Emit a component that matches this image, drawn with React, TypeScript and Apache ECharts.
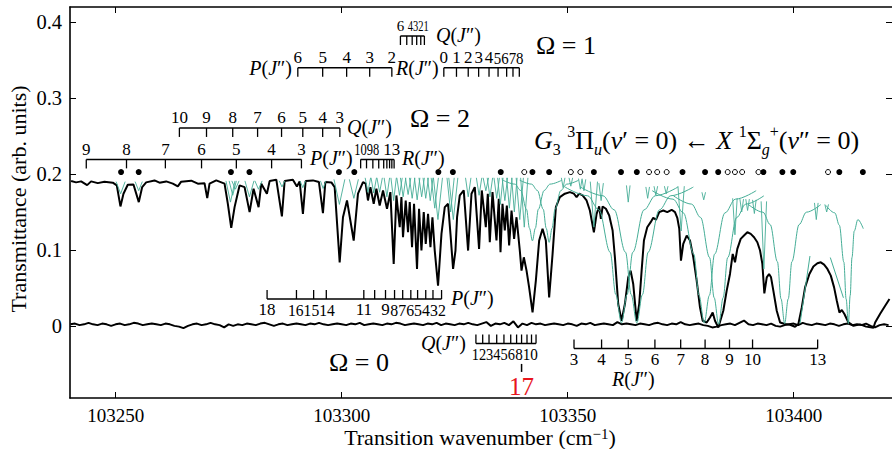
import React, { useEffect, useRef } from "react";
import * as echarts from "echarts";

const FONT = "Liberation Serif, DejaVu Serif, serif";
const GREEN = "#45ad96";

const xTicks = [103250, 103300, 103350, 103400];
const yTicks = [0, 0.1, 0.2, 0.3, 0.4];

// measured transmittance (upper trace)
const upperTrace: [number, number][] = [
  [103240.15, 0.1907], [103241.25, 0.189], [103242.36, 0.1903], [103243.69, 0.1854], [103244.57, 0.1903], [103246.04, 0.188], [103247.52, 0.1899], [103249.36, 0.1886], [103250.25, 0.185], [103251.06, 0.1573], [103251.73, 0.1741], [103252.68, 0.1859], [103253.94, 0.1863], [103255.12, 0.163], [103255.87, 0.1828], [103256.75, 0.189], [103258.59, 0.1916], [103259.7, 0.1886], [103261.18, 0.1903], [103262.65, 0.1873], [103263.75, 0.1837], [103264.5, 0.1899], [103266.72, 0.1912], [103268.18, 0.1873], [103269.66, 0.188], [103270.26, 0.1682], [103270.77, 0.1873], [103272.25, 0.1916], [103274.09, 0.1873], [103274.82, 0.1608], [103275.57, 0.1291], [103276.31, 0.1564], [103277.41, 0.185], [103278.52, 0.1828], [103279.63, 0.1498], [103280.51, 0.1806], [103281.62, 0.1564], [103282.22, 0.1873], [103283.46, 0.1741], [103284.06, 0.1907], [103285.54, 0.1925], [103286.78, 0.1441], [103287.38, 0.1907], [103289.21, 0.1925], [103290.1, 0.1837], [103290.7, 0.1903], [103291.43, 0.1476], [103292.03, 0.1907], [103293.65, 0.1916], [103294.97, 0.1894], [103295.86, 0.1484], [103296.39, 0.1894], [103297.72, 0.189], [103298.45, 0.1828], [103299.56, 0.0837], [103300.29, 0.1431], [103301.18, 0.1652], [103302.66, 0.1124], [103303.61, 0.1741], [103304.72, 0.1894], [103305.31, 0.1873], [103305.82, 0.1652], [103306.36, 0.1828], [103307.09, 0.1608], [103307.68, 0.1806], [103308.41, 0.1586], [103309.15, 0.1784], [103310.03, 0.1543], [103310.78, 0.1762], [103311.51, 0.0816], [103312.11, 0.1718], [103312.84, 0.1299], [103313.22, 0.1696], [103313.57, 0.1167], [103314.17, 0.1652], [103314.68, 0.1233], [103315.06, 0.163], [103315.57, 0.1035], [103316.01, 0.1608], [103316.67, 0.075], [103317.12, 0.1543], [103317.65, 0.0992], [103318.16, 0.1498], [103318.6, 0.108], [103319.11, 0.1476], [103319.64, 0.1035], [103320.08, 0.1431], [103320.59, 0.0992], [103321.32, 0.0529], [103322.08, 0.1212], [103322.81, 0.1564], [103323.54, 0.1608], [103324.07, 0.1212], [103324.65, 0.075], [103325.18, 0.0992], [103325.53, 0.1431], [103326.13, 0.1718], [103327.01, 0.1784], [103327.97, 0.0992], [103328.72, 0.1741], [103329.45, 0.1828], [103330.4, 0.1014], [103331.0, 0.1784], [103331.89, 0.1299], [103332.33, 0.1741], [103332.77, 0.1101], [103333.37, 0.1762], [103334.25, 0.1124], [103334.76, 0.1674], [103335.14, 0.0969], [103335.58, 0.1608], [103336.09, 0.1256], [103336.54, 0.1586], [103337.05, 0.1058], [103337.58, 0.152], [103338.15, 0.1146], [103338.68, 0.1431], [103339.41, 0.0992], [103339.79, 0.0728], [103340.3, 0.0903], [103340.9, 0.0728], [103341.47, 0.0507], [103342.23, 0.0177], [103342.96, 0.0596], [103343.69, 0.1124], [103344.44, 0.1278], [103345.17, 0.1124], [103345.9, 0.0375], [103346.66, 0.0948], [103347.39, 0.1564], [103348.27, 0.1696], [103349.38, 0.1741], [103350.49, 0.1762], [103351.37, 0.1741], [103351.97, 0.1696], [103352.54, 0.1741], [103353.3, 0.1718], [103354.18, 0.1652], [103354.91, 0.152], [103355.8, 0.1233], [103356.4, 0.1476], [103356.97, 0.1573], [103357.35, 0.141], [103357.73, 0.1573], [103358.46, 0.1543], [103359.19, 0.1454], [103359.94, 0.1256], [103360.45, 0.0903], [103361.18, 0.0288], [103361.93, 0.0067], [103362.66, 0.0288], [103363.4, 0.0639], [103363.93, 0.0728], [103364.5, 0.0552], [103365.26, 0.0067], [103365.83, 0.0288], [103366.36, 0.0728], [103366.87, 0.1124], [103367.6, 0.1299], [103368.36, 0.1366], [103368.93, 0.1424], [103369.53, 0.1397], [103370.26, 0.1498], [103371.15, 0.152], [103372.03, 0.1498], [103373.0, 0.1529], [103373.74, 0.1498], [103374.25, 0.1424], [103374.69, 0.1278], [103375.06, 0.086], [103375.57, 0.108], [103376.33, 0.119], [103377.06, 0.1124], [103377.79, 0.0903], [103378.54, 0.0596], [103379.27, 0.0243], [103379.87, 0.0067], [103380.76, 0.0045], [103381.49, 0.0111], [103382.08, 0.0177], [103382.59, 0.0067], [103383.33, -0.0021], [103384.43, 0.0199], [103385.18, 0.0464], [103385.91, 0.0684], [103386.51, 0.0948], [103387.02, 0.0837], [103387.53, 0.1014], [103388.28, 0.1146], [103389.01, 0.119], [103389.75, 0.1233], [103390.5, 0.1212], [103391.23, 0.1167], [103391.96, 0.1101], [103392.56, 0.0992], [103393.07, 0.0816], [103393.51, 0.0428], [103394.04, 0.0639], [103394.55, 0.0684], [103394.99, 0.0639], [103395.5, 0.0464], [103396.25, 0.0199], [103396.99, 0.0045], [103398.09, 0.0024], [103399.2, 0.0015], [103400.31, -0.0012], [103401.04, 0.0024], [103401.79, 0.0243], [103402.52, 0.0507], [103403.48, 0.0684], [103404.36, 0.0781], [103405.25, 0.0824], [103406.0, 0.0837], [103406.73, 0.0807], [103407.46, 0.075], [103408.21, 0.0662], [103408.94, 0.0507], [103409.54, 0.0331], [103410.12, 0.0177], [103410.65, 0.0209], [103411.22, 0.0156], [103412.11, 0.0045], [103413.22, 0.0001], [103414.7, 0.002], [103416.03, -0.001], [103417.65, -0.0025], [103418.02, 0.0045], [103419.13, 0.016], [103420.24, 0.0266], [103421.19, 0.0354],
];

// zero-level trace, one value per cm^-1 starting at lowerStart
const lowerStart = 103240;
const lowerTrace: number[] = [
  0.002, 0.003, 0.001, 0.002, 0.004, 0.002, 0.001, 0.003, 0.002, 0.0, 0.002, 0.003, 0.001, 0.002, 0.004, 0.003, 0.001, 0.002, 0.003, 0.002,
  0.001, 0.003, 0.002, 0.0, -0.001, -0.003, 0.0, 0.002, 0.003, 0.001, 0.002, 0.004, 0.002, 0.001, -0.002, 0.002, 0.0, 0.002, 0.001, 0.003,
  0.002, 0.001, 0.003, 0.004, 0.002, 0.0, 0.002, 0.003, 0.001, 0.002, 0.003, 0.002, 0.001, 0.003, 0.002, 0.004, 0.002, 0.001, 0.002, 0.003,
  0.002, 0.001, 0.003, 0.002, 0.004, 0.001, 0.002, 0.003, 0.002, 0.001, 0.003, 0.002, 0.004, 0.003, 0.001, 0.002, 0.003, 0.002, 0.001, 0.003,
  0.002, 0.004, 0.001, 0.003, 0.002, 0.001, 0.003, 0.002, 0.004, 0.002, 0.001, 0.003, 0.005, 0.0, 0.003, 0.002, 0.004, 0.001, 0.006, -0.002,
  0.003, 0.001, 0.004, 0.002, 0.003, 0.001, 0.002, 0.003, 0.002, 0.001, 0.003, 0.002, 0.0, 0.003, 0.002, 0.004, 0.001, 0.002, 0.003, 0.002,
  0.001, 0.005, 0.002, 0.003, 0.002, 0.001, 0.003, 0.002, 0.001, 0.003, 0.004, 0.002, 0.001, 0.003, 0.002, 0.005, 0.002, 0.001, 0.002, 0.003,
  0.001, 0.0, -0.002, -0.001, 0.001, 0.002, 0.003, 0.001, 0.004, 0.007, 0.002, 0.001, 0.003, 0.002, 0.001, 0.003, 0.0, -0.001, 0.001, 0.002,
  0.003, 0.001, 0.004, 0.002, 0.001, 0.003, 0.002, 0.001, 0.003, 0.002, 0.0, 0.002, 0.003, 0.001, 0.002, 0.001, 0.003, 0.0, -0.002, 0.001,
  0.002, 0.001,
];

// model line profiles (broad), read point by point
const greenProfiles: [number, number][][] = [
  [[103335.7, 0.1918], [103338.3, 0.1867], [103339.6, 0.1784], [103340.9, 0.1535], [103341.55, 0.1286], [103342.2, 0.112], [103342.85, 0.1286], [103343.5, 0.1535], [103344.8, 0.1784], [103346.1, 0.1867], [103348.7, 0.1918]],
  [[103339.4, 0.1918], [103342.0, 0.1867], [103343.3, 0.1784], [103344.6, 0.1535], [103345.25, 0.1286], [103345.9, 0.11], [103346.55, 0.1286], [103347.2, 0.1535], [103348.5, 0.1784], [103349.8, 0.1867], [103352.4, 0.1918]],
  [[103349.4, 0.1829], [103354.4, 0.1714], [103356.9, 0.1528], [103359.4, 0.097], [103360.65, 0.0412], [103361.9, 0.004], [103363.15, 0.0412], [103364.4, 0.097], [103366.9, 0.1528], [103369.4, 0.1714], [103374.4, 0.1829]],
  [[103352.8, 0.1829], [103357.8, 0.1714], [103360.3, 0.1528], [103362.8, 0.097], [103364.05, 0.0412], [103365.3, 0.004], [103366.55, 0.0412], [103367.8, 0.097], [103370.3, 0.1528], [103372.8, 0.1714], [103377.8, 0.1829]],
  [[103368.7, 0.1781], [103373.3, 0.1669], [103375.6, 0.1488], [103377.9, 0.0945], [103379.05, 0.0402], [103380.2, 0.004], [103381.35, 0.0402], [103382.5, 0.0945], [103384.8, 0.1488], [103387.1, 0.1669], [103391.7, 0.1781]],
  [[103373.4, 0.1713], [103377.4, 0.1604], [103379.4, 0.1428], [103381.4, 0.09], [103382.4, 0.0372], [103383.4, 0.002], [103384.4, 0.0372], [103385.4, 0.09], [103387.4, 0.1428], [103389.4, 0.1604], [103393.4, 0.1713]],
  [[103390.0, 0.1598], [103393.2, 0.1497], [103394.8, 0.1334], [103396.4, 0.0845], [103397.2, 0.0356], [103398.0, 0.003], [103398.8, 0.0356], [103399.6, 0.0845], [103401.2, 0.1334], [103402.8, 0.1497], [103406.0, 0.1598]],
  [[103407.1, 0.1588], [103409.1, 0.1488], [103410.1, 0.1326], [103411.1, 0.084], [103411.6, 0.0354], [103412.1, 0.003], [103412.5, 0.04], [103412.9, 0.09], [103413.4, 0.125], [103414.2, 0.14], [103415.4, 0.128]],
  [[103401.4, 0.003], [103403.6, 0.092]],
  [[103408.1, 0.09], [103411.0, 0.037]],
];

// narrow model lines: [centre, top, minimum, half width]
const greenNarrow: [number, number, number, number][] = [
  [103251.1, 0.19, 0.174, 0.5], [103255.1, 0.19, 0.178, 0.4], [103275.4, 0.191, 0.163, 0.5], [103275.9, 0.191, 0.172, 0.4],
  [103276.5, 0.191, 0.18, 0.4], [103279.6, 0.191, 0.17, 0.5], [103281.6, 0.191, 0.18, 0.4], [103286.8, 0.191, 0.183, 0.3],
  [103291.4, 0.191, 0.182, 0.3], [103295.9, 0.191, 0.181, 0.3], [103299.5, 0.193, 0.16, 0.6], [103302.7, 0.193, 0.168, 0.5],
  [103305.8, 0.195, 0.176, 0.3], [103307.1, 0.195, 0.175, 0.3], [103308.4, 0.195, 0.176, 0.3], [103310.0, 0.195, 0.17, 0.3],
  [103311.5, 0.195, 0.165, 0.3], [103312.8, 0.195, 0.172, 0.3], [103313.6, 0.195, 0.17, 0.3], [103314.7, 0.195, 0.173, 0.3],
  [103315.6, 0.195, 0.168, 0.3], [103316.7, 0.195, 0.166, 0.3], [103317.7, 0.195, 0.17, 0.3], [103318.6, 0.195, 0.168, 0.3],
  [103319.6, 0.195, 0.165, 0.3], [103320.6, 0.195, 0.155, 0.4], [103321.3, 0.195, 0.14, 0.5], [103324.1, 0.195, 0.15, 0.4],
  [103324.7, 0.195, 0.14, 0.5], [103328.0, 0.195, 0.17, 0.3], [103330.4, 0.195, 0.172, 0.3], [103331.9, 0.195, 0.178, 0.3],
  [103332.8, 0.195, 0.17, 0.3], [103334.3, 0.195, 0.168, 0.3], [103335.1, 0.195, 0.16, 0.3], [103336.1, 0.195, 0.165, 0.3],
  [103337.1, 0.195, 0.155, 0.3], [103338.2, 0.195, 0.15, 0.3], [103339.4, 0.195, 0.14, 0.4], [103340.4, 0.195, 0.13, 0.4],
  [103349.0, 0.195, 0.182, 0.2], [103350.7, 0.195, 0.184, 0.2], [103352.8, 0.194, 0.18, 0.2], [103353.6, 0.193, 0.178, 0.2],
  [103355.8, 0.19, 0.13, 0.4], [103357.4, 0.188, 0.165, 0.25], [103363.4, 0.185, 0.163, 0.2], [103367.7, 0.183, 0.168, 0.2],
  [103369.5, 0.184, 0.172, 0.2], [103371.8, 0.184, 0.174, 0.2], [103375.1, 0.184, 0.125, 0.35], [103380.1, 0.176, 0.166, 0.2],
  [103387.0, 0.168, 0.12, 0.25], [103388.5, 0.167, 0.15, 0.2], [103389.8, 0.167, 0.152, 0.2], [103391.3, 0.166, 0.148, 0.2],
  [103393.4, 0.164, 0.075, 0.3], [103405.0, 0.162, 0.14, 0.2], [103407.3, 0.16, 0.15, 0.2],
];

const filledDots = [103251.2, 103255.1, 103275.5, 103279.6, 103299.4, 103302.8, 103321.4, 103324.6, 103335.2, 103342.2, 103345.9, 103355.8, 103361.8, 103365.3, 103375.4, 103380.4, 103383.3, 103393.3, 103397.5, 103399.9, 103410.1, 103415.3];
const openDots = [103340.4, 103350.7, 103352.8, 103368.0, 103369.8, 103371.9, 103385.4, 103387.0, 103388.6, 103392.2, 103407.6];
const dotRowY = 0.2026;

// rotational branch assignments
const omega1Q = [103313.0, 103314.4, 103315.6, 103316.6, 103317.5, 103318.3];
const omega1QLabels = ["6", "", "4", "3", "2", "1"];
const omega1P = [103290.3, 103295.8, 103301.1, 103306.2, 103311.1];
const omega1PLabels = ["6", "5", "4", "3", "2"];
const omega1R = [103322.6, 103325.4, 103328.0, 103330.3, 103332.6, 103334.6, 103336.5, 103337.9, 103339.3];
const omega1RLabels = ["0", "1", "2", "3", "4", "5", "6", "7", "8"];
const omega2Q = [103264.1, 103270.1, 103275.9, 103281.4, 103286.7, 103291.4, 103295.8, 103299.6];
const omega2QLabels = ["10", "9", "8", "7", "6", "5", "4", "3"];
const omega2P = [103243.5, 103252.4, 103261.0, 103269.0, 103276.7, 103284.5, 103291.1];
const omega2PLabels = ["9", "8", "7", "6", "5", "4", "3"];
const omega2R = [103304.2, 103305.5, 103306.9, 103308.2, 103309.3, 103310.0, 103310.6, 103311.1, 103311.6];
const omega2RLabels = ["10", "9", "8", "", "", "", "", "13", ""];
const omega0P = [103283.5, 103290.0, 103293.8, 103296.6, 103304.9, 103307.3, 103309.7, 103311.7, 103313.5, 103315.3, 103316.8, 103318.6, 103320.2, 103322.1];
const omega0PLabels = ["18", "16", "15", "14", "11", "", "9", "8", "7", "6", "5", "4", "3", "2"];
const omega0Q = [103329.7, 103331.2, 103332.6, 103334.3, 103335.9, 103337.4, 103338.7, 103339.8, 103341.0, 103342.0, 103343.0];
const omega0QLabels = ["1", "2", "3", "4", "5", "6", "", "8", "", "10", ""];
const omega0R = [103351.4, 103357.5, 103363.4, 103369.3, 103375.0, 103380.4, 103385.8, 103390.9, 103405.3];
const omega0RLabels = ["3", "4", "5", "6", "7", "8", "9", "10", "13"];
const marker17X = 103339.8;
const marker17Label = "17";

type Comb = { ticks: number[]; labels: string[]; yLine: number; up: boolean; font: number };
const combs: Comb[] = [
  { ticks: omega1Q, labels: omega1QLabels, yLine: 0.3818, up: false, font: 15 },
  { ticks: omega1P, labels: omega1PLabels, yLine: 0.3399, up: false, font: 17 },
  { ticks: omega1R, labels: omega1RLabels, yLine: 0.3399, up: false, font: 17 },
  { ticks: omega2Q, labels: omega2QLabels, yLine: 0.2607, up: false, font: 17 },
  { ticks: omega2P, labels: omega2PLabels, yLine: 0.2193, up: false, font: 17 },
  { ticks: omega2R, labels: omega2RLabels, yLine: 0.2193, up: false, font: 17 },
  { ticks: omega0P, labels: omega0PLabels, yLine: 0.0354, up: true, font: 17 },
  { ticks: omega0Q, labels: omega0QLabels, yLine: -0.0232, up: true, font: 17 },
  { ticks: omega0R, labels: omega0RLabels, yLine: -0.0298, up: true, font: 17 },
];

const txtStyle = (size: number, align: string, extra: any = {}) => ({
  fontSize: size,
  fontFamily: FONT,
  fill: "#000",
  align,
  verticalAlign: "middle",
  textAlign: align,
  textVerticalAlign: "middle",
  ...extra,
});

function textEl(x: number, y: number, text: string, size: number, align: string = "center", extra: any = {}) {
  return { type: "text", x, y, z: 20, silent: true, style: { text, ...txtStyle(size, align, extra) } };
}

export default function App() {
  const ref = useRef<HTMLDivElement>(null);
  useEffect(() => {
    if (!ref.current) return;
    const chart = echarts.init(ref.current, undefined, { renderer: "svg" });

    const axisBase = { type: "value", min: 103239.9, max: 103421.75, splitLine: { show: false } };
    const yBase = { type: "value", min: -0.095, max: 0.42, splitLine: { show: false } };

    const series: any[] = [];
    const lineSeries = (data: any[], color: string, width: number, z: number, smooth: any = false) => ({
      type: "line",
      data,
      showSymbol: false,
      symbol: "none",
      smooth,
      smoothMonotone: "x",
      lineStyle: { color, width },
      z,
      silent: true,
    });
    series.push(lineSeries(upperTrace, "#000", 2, 3));
    series.push(lineSeries(lowerTrace.map((v, i) => [lowerStart + i, v]), "#000", 2, 3));
    greenProfiles.forEach((pts) => series.push(lineSeries(pts, GREEN, 1, 4, pts.length > 2 ? 0.35 : false)));
    greenNarrow.forEach(([c, top, mn, hw]) =>
      series.push(lineSeries([[c - 2 * hw, top], [c, mn], [c + 2 * hw, top]], GREEN, 0.9, 4))
    );
    series.push({
      type: "scatter",
      data: filledDots.map((x) => [x, dotRowY]),
      symbol: "circle",
      symbolSize: 6,
      itemStyle: { color: "#000", opacity: 1 },
      z: 6,
      silent: true,
    });
    series.push({
      type: "scatter",
      data: openDots.map((x) => [x, dotRowY]),
      symbol: "circle",
      symbolSize: 5,
      itemStyle: { color: "#fff", borderColor: "#000", borderWidth: 1, opacity: 1 },
      z: 6,
      silent: true,
    });
    series.push({
      type: "custom",
      data: combs.map((c) => [c.ticks[0], c.yLine]),
      z: 8,
      silent: true,
      clip: false,
      renderItem: (params: any, api: any) => {
        const c = combs[params.dataIndex];
        const pts = c.ticks.map((x) => api.coord([x, c.yLine]));
        const y0 = pts[0][1];
        const children: any[] = [
          {
            type: "line",
            shape: { x1: pts[0][0], y1: y0, x2: pts[pts.length - 1][0], y2: y0 },
            style: { stroke: "#000", lineWidth: 1.5 },
          },
        ];
        // crowded labels are set as one condensed text, as in the original
        const cw = c.font * 0.5;
        type G = { text: string; a: number; b: number; firstLen: number; lastLen: number; n: number; w: number };
        const groups: G[] = [];
        const widthOf = (g: G) => {
          const natural = g.text.length * cw;
          if (g.n < 2) return natural;
          const target = g.b - g.a + ((g.firstLen + g.lastLen) * cw) / 2;
          return Math.max(0.7 * natural, Math.min(natural, target));
        };
        pts.forEach((p: number[], i: number) => {
          children.push({
            type: "line",
            shape: { x1: p[0], y1: y0, x2: p[0], y2: y0 + (c.up ? -9 : 9) },
            style: { stroke: "#000", lineWidth: 1.3 },
          });
          const lab = c.labels[i];
          if (!lab) return;
          const last = groups[groups.length - 1];
          if (last) {
            const lastRight = (last.a + last.b) / 2 + last.w / 2;
            const thisLeft = p[0] - (lab.length * cw) / 2;
            if (thisLeft < lastRight + 0.5) {
              last.text += lab;
              last.b = p[0];
              last.lastLen = lab.length;
              last.n += 1;
              last.w = widthOf(last);
              return;
            }
          }
          const g: G = { text: lab, a: p[0], b: p[0], firstLen: lab.length, lastLen: lab.length, n: 1, w: 0 };
          g.w = widthOf(g);
          groups.push(g);
        });
        groups.forEach((g) => {
          const natural = g.text.length * cw;
          children.push({
            type: "text",
            x: (g.a + g.b) / 2,
            y: y0 + (c.up ? 11 : -10),
            scaleX: Math.min(1, g.w / natural),
            style: { text: g.text, ...txtStyle(c.font, "center") },
          });
        });
        return { type: "group", children };
      },
    });
    series.push({
      type: "custom",
      data: [[marker17X, -0.0501]],
      z: 8,
      silent: true,
      clip: false,
      renderItem: (params: any, api: any) => {
        const p = api.coord([marker17X, -0.0501]);
        return {
          type: "group",
          children: [
            { type: "line", shape: { x1: p[0], y1: p[1], x2: p[0], y2: p[1] + 8 }, style: { stroke: "#000", lineWidth: 1.5 } },
            {
              type: "text",
              x: p[0],
              y: p[1] + 23,
              style: { text: marker17Label, ...txtStyle(25, "center", { fill: "#e8141c" }) },
            },
          ],
        };
      },
    });

    const pj = (letter: string) => `{i|${letter}}{n|(}{i|J}{n|″)}`;
    const richPJ = {
      i: { fontFamily: FONT, fontSize: 20, fontStyle: "italic", color: "#000" },
      n: { fontFamily: FONT, fontSize: 20, color: "#000" },
    };
    const S = 26;
    const formulaRich = {
      i: { fontFamily: FONT, fontSize: S, fontStyle: "italic", lineHeight: 34, verticalAlign: "middle", color: "#000" },
      n: { fontFamily: FONT, fontSize: S, lineHeight: 34, verticalAlign: "middle", color: "#000" },
      sup: { fontFamily: FONT, fontSize: 16, lineHeight: 16, verticalAlign: "top", color: "#000" },
      sub: { fontFamily: FONT, fontSize: 16, lineHeight: 16, verticalAlign: "bottom", color: "#000" },
      isub: { fontFamily: FONT, fontSize: 16, fontStyle: "italic", lineHeight: 16, verticalAlign: "bottom", color: "#000" },
    };
    const formula =
      "{i|G}{sub|3}{n| }{sup|3}{n|Π}{isub|u}{n|(}{i|v}{n|′ = 0) ← }{i|X}{n| }{sup|1}{n|Σ}{isub|g}{sup|+}{n|(}{i|v}{n|″ = 0)}";

    const graphics: any[] = [
      textEl(566, 45, "Ω = 1", 26),
      textEl(440, 118, "Ω = 2", 26),
      textEl(359, 362, "Ω = 0", 26),
      textEl(436, 35, pj("Q"), 20, "left", { rich: richPJ }),
      textEl(292, 68, pj("P"), 20, "right", { rich: richPJ }),
      textEl(396, 68, pj("R"), 20, "left", { rich: richPJ }),
      textEl(347, 127, pj("Q"), 20, "left", { rich: richPJ }),
      textEl(310, 158, pj("P"), 20, "left", { rich: richPJ }),
      textEl(402, 158, pj("R"), 20, "left", { rich: richPJ }),
      textEl(451, 298, pj("P"), 20, "left", { rich: richPJ }),
      textEl(421, 343, pj("Q"), 20, "left", { rich: richPJ }),
      textEl(612, 379, pj("R"), 20, "left", { rich: richPJ }),
      textEl(534, 140, formula, S, "left", { rich: formulaRich }),
      textEl(480, 437, "{n|Transition wavenumber (cm}{sup|−1}{n|)}", 22, "center", {
        rich: {
          n: { fontFamily: FONT, fontSize: 22, lineHeight: 22, verticalAlign: "middle", color: "#000" },
          sup: { fontFamily: FONT, fontSize: 15, lineHeight: 15, verticalAlign: "top", color: "#000" },
        },
      }),
      {
        type: "text",
        x: 18,
        y: 199,
        rotation: Math.PI / 2,
        z: 20,
        silent: true,
        style: { text: "Transmittance (arb. units)", ...txtStyle(22, "center") },
      },
    ];

    chart.setOption({
      animation: false,
      backgroundColor: "#fff",
      textStyle: { fontFamily: FONT },
      grid: { left: 70, right: 0, top: 7, bottom: 51, containLabel: false, outerBoundsMode: "none" },
      xAxis: [
        {
          ...axisBase,
          position: "bottom",
          axisLine: { show: true, onZero: false, lineStyle: { color: "#000", width: 1.6 } },
          axisTick: { show: true, inside: true, length: 6, customValues: xTicks, lineStyle: { color: "#000", width: 1 } },
          axisLabel: {
            show: true,
            customValues: xTicks,
            margin: 8,
            color: "#000",
            fontFamily: FONT,
            fontSize: 19,
            formatter: (v: number) => String(Math.round(v)),
          },
        },
        {
          ...axisBase,
          position: "top",
          axisLine: { show: true, onZero: false, lineStyle: { color: "#000", width: 1.6 } },
          axisTick: { show: true, inside: true, length: 6, customValues: xTicks, lineStyle: { color: "#000", width: 1 } },
          axisLabel: { show: false },
        },
      ],
      yAxis: [
        {
          ...yBase,
          position: "left",
          axisLine: { show: true, onZero: false, lineStyle: { color: "#000", width: 1.6 } },
          axisTick: { show: true, inside: true, length: 6, customValues: yTicks, lineStyle: { color: "#000", width: 1 } },
          axisLabel: {
            show: true,
            customValues: yTicks,
            margin: 8,
            color: "#000",
            fontFamily: FONT,
            fontSize: 20.5,
            formatter: (v: number) => (Math.abs(v) < 1e-9 ? "0" : v.toFixed(1)),
          },
        },
        {
          ...yBase,
          position: "right",
          axisLine: { show: false, onZero: false },
          axisTick: { show: true, inside: true, length: 6, customValues: yTicks, lineStyle: { color: "#000", width: 1 } },
          axisLabel: { show: false },
        },
      ],
      series,
      graphic: { elements: graphics },
    });

    return () => chart.dispose();
  }, []);

  return <div ref={ref} style={{ position: "fixed", left: 0, top: 0, width: 892, height: 449, background: "#fff" }} />;
}
